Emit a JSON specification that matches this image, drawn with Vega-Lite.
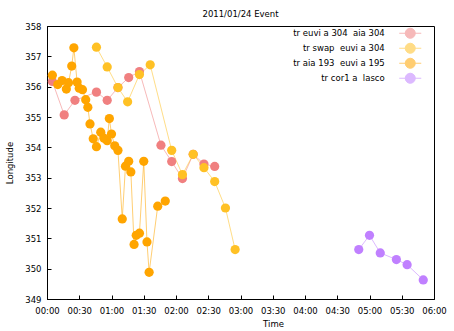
{
  "$schema": "https://vega.github.io/schema/vega-lite/v6.json",
  "width": 454,
  "height": 331,
  "autosize": {"type": "fit", "contains": "padding"},
  "padding": {"left": 5, "top": 9, "right": 7, "bottom": 3},
  "background": "white",
  "title": {"text": "2011/01/24 Event", "fontSize": 8.5, "font": "DejaVu Sans", "fontWeight": "normal", "color": "#000", "offset": 4},
  "config": {
    "view": {"stroke": "#000"},
    "font": "DejaVu Sans",
    "axis": {"grid": false, "domainColor": "#000", "tickColor": "#000", "labelColor": "#000", "titleColor": "#000", "labelFontSize": 8.5, "titleFontSize": 8.5, "titleFontWeight": "normal", "labelFont": "DejaVu Sans", "titleFont": "DejaVu Sans"}
  },
  "data": {
    "values": [
      {"series": "tr euvi a 304  aia 304", "time": "2011-01-24T00:05", "longitude": 356.17},
      {"series": "tr euvi a 304  aia 304", "time": "2011-01-24T00:16", "longitude": 355.07},
      {"series": "tr euvi a 304  aia 304", "time": "2011-01-24T00:26", "longitude": 355.55},
      {"series": "tr euvi a 304  aia 304", "time": "2011-01-24T00:46", "longitude": 355.82},
      {"series": "tr euvi a 304  aia 304", "time": "2011-01-24T00:56", "longitude": 355.55},
      {"series": "tr euvi a 304  aia 304", "time": "2011-01-24T01:06", "longitude": 355.97},
      {"series": "tr euvi a 304  aia 304", "time": "2011-01-24T01:16", "longitude": 356.3},
      {"series": "tr euvi a 304  aia 304", "time": "2011-01-24T01:26", "longitude": 356.5},
      {"series": "tr euvi a 304  aia 304", "time": "2011-01-24T01:46", "longitude": 354.07},
      {"series": "tr euvi a 304  aia 304", "time": "2011-01-24T01:56", "longitude": 353.53},
      {"series": "tr euvi a 304  aia 304", "time": "2011-01-24T02:06", "longitude": 352.97},
      {"series": "tr euvi a 304  aia 304", "time": "2011-01-24T02:16", "longitude": 353.77},
      {"series": "tr euvi a 304  aia 304", "time": "2011-01-24T02:26", "longitude": 353.45},
      {"series": "tr euvi a 304  aia 304", "time": "2011-01-24T02:36", "longitude": 353.37},
      {"series": "tr swap  euvi a 304", "time": "2011-01-24T00:46", "longitude": 357.3},
      {"series": "tr swap  euvi a 304", "time": "2011-01-24T00:56", "longitude": 356.65},
      {"series": "tr swap  euvi a 304", "time": "2011-01-24T01:06", "longitude": 355.97},
      {"series": "tr swap  euvi a 304", "time": "2011-01-24T01:15", "longitude": 355.5},
      {"series": "tr swap  euvi a 304", "time": "2011-01-24T01:26", "longitude": 356.4},
      {"series": "tr swap  euvi a 304", "time": "2011-01-24T01:36", "longitude": 356.72},
      {"series": "tr swap  euvi a 304", "time": "2011-01-24T01:56", "longitude": 353.9},
      {"series": "tr swap  euvi a 304", "time": "2011-01-24T02:06", "longitude": 353.1},
      {"series": "tr swap  euvi a 304", "time": "2011-01-24T02:16", "longitude": 353.77},
      {"series": "tr swap  euvi a 304", "time": "2011-01-24T02:26", "longitude": 353.33},
      {"series": "tr swap  euvi a 304", "time": "2011-01-24T02:36", "longitude": 352.87},
      {"series": "tr swap  euvi a 304", "time": "2011-01-24T02:46", "longitude": 352.0},
      {"series": "tr swap  euvi a 304", "time": "2011-01-24T02:55", "longitude": 350.63},
      {"series": "tr aia 193  euvi a 195", "time": "2011-01-24T00:05", "longitude": 356.38},
      {"series": "tr aia 193  euvi a 195", "time": "2011-01-24T00:10", "longitude": 356.07},
      {"series": "tr aia 193  euvi a 195", "time": "2011-01-24T00:14", "longitude": 356.2},
      {"series": "tr aia 193  euvi a 195", "time": "2011-01-24T00:18", "longitude": 355.92},
      {"series": "tr aia 193  euvi a 195", "time": "2011-01-24T00:20", "longitude": 356.13},
      {"series": "tr aia 193  euvi a 195", "time": "2011-01-24T00:23", "longitude": 356.68},
      {"series": "tr aia 193  euvi a 195", "time": "2011-01-24T00:25", "longitude": 357.28},
      {"series": "tr aia 193  euvi a 195", "time": "2011-01-24T00:28", "longitude": 356.15},
      {"series": "tr aia 193  euvi a 195", "time": "2011-01-24T00:30", "longitude": 355.95},
      {"series": "tr aia 193  euvi a 195", "time": "2011-01-24T00:33", "longitude": 355.9},
      {"series": "tr aia 193  euvi a 195", "time": "2011-01-24T00:36", "longitude": 355.57},
      {"series": "tr aia 193  euvi a 195", "time": "2011-01-24T00:38", "longitude": 355.32},
      {"series": "tr aia 193  euvi a 195", "time": "2011-01-24T00:40", "longitude": 354.77},
      {"series": "tr aia 193  euvi a 195", "time": "2011-01-24T00:43", "longitude": 354.28},
      {"series": "tr aia 193  euvi a 195", "time": "2011-01-24T00:46", "longitude": 354.02},
      {"series": "tr aia 193  euvi a 195", "time": "2011-01-24T00:50", "longitude": 354.5},
      {"series": "tr aia 193  euvi a 195", "time": "2011-01-24T00:53", "longitude": 354.3},
      {"series": "tr aia 193  euvi a 195", "time": "2011-01-24T00:56", "longitude": 354.22},
      {"series": "tr aia 193  euvi a 195", "time": "2011-01-24T00:58", "longitude": 354.95},
      {"series": "tr aia 193  euvi a 195", "time": "2011-01-24T01:00", "longitude": 354.44},
      {"series": "tr aia 193  euvi a 195", "time": "2011-01-24T01:03", "longitude": 354.05},
      {"series": "tr aia 193  euvi a 195", "time": "2011-01-24T01:06", "longitude": 353.9},
      {"series": "tr aia 193  euvi a 195", "time": "2011-01-24T01:10", "longitude": 351.64},
      {"series": "tr aia 193  euvi a 195", "time": "2011-01-24T01:13", "longitude": 353.38},
      {"series": "tr aia 193  euvi a 195", "time": "2011-01-24T01:16", "longitude": 353.54},
      {"series": "tr aia 193  euvi a 195", "time": "2011-01-24T01:18", "longitude": 353.19},
      {"series": "tr aia 193  euvi a 195", "time": "2011-01-24T01:21", "longitude": 350.8},
      {"series": "tr aia 193  euvi a 195", "time": "2011-01-24T01:23", "longitude": 351.1},
      {"series": "tr aia 193  euvi a 195", "time": "2011-01-24T01:26", "longitude": 351.17},
      {"series": "tr aia 193  euvi a 195", "time": "2011-01-24T01:30", "longitude": 353.54},
      {"series": "tr aia 193  euvi a 195", "time": "2011-01-24T01:33", "longitude": 350.88},
      {"series": "tr aia 193  euvi a 195", "time": "2011-01-24T01:35", "longitude": 349.88},
      {"series": "tr aia 193  euvi a 195", "time": "2011-01-24T01:43", "longitude": 352.06},
      {"series": "tr aia 193  euvi a 195", "time": "2011-01-24T01:50", "longitude": 352.23},
      {"series": "tr cor1 a  lasco", "time": "2011-01-24T04:50", "longitude": 350.63},
      {"series": "tr cor1 a  lasco", "time": "2011-01-24T05:00", "longitude": 351.1},
      {"series": "tr cor1 a  lasco", "time": "2011-01-24T05:10", "longitude": 350.52},
      {"series": "tr cor1 a  lasco", "time": "2011-01-24T05:25", "longitude": 350.3},
      {"series": "tr cor1 a  lasco", "time": "2011-01-24T05:35", "longitude": 350.13},
      {"series": "tr cor1 a  lasco", "time": "2011-01-24T05:50", "longitude": 349.63}
    ]
  },
  "encoding": {
    "x": {
      "field": "time", "type": "temporal", "title": "Time",
      "scale": {"domain": [{"year": 2011, "month": 1, "date": 24, "hours": 0, "minutes": 0}, {"year": 2011, "month": 1, "date": 24, "hours": 6, "minutes": 0}]},
      "axis": {"format": "%H:%M", "tickCount": 12, "labelOverlap": false, "labelFlush": false, "tickSize": -4, "labelPadding": 11, "titlePadding": 5, "titleX": 226}
    },
    "y": {
      "field": "longitude", "type": "quantitative", "title": "Longitude",
      "scale": {"domain": [349, 358], "nice": false, "zero": false},
      "axis": {"values": [349, 350, 351, 352, 353, 354, 355, 356, 357, 358], "tickSize": -4, "labelPadding": 10, "titlePadding": 10}
    },
    "color": {
      "field": "series", "type": "nominal",
      "scale": {"domain": ["tr euvi a 304  aia 304", "tr swap  euvi a 304", "tr aia 193  euvi a 195", "tr cor1 a  lasco"], "range": ["#F08080", "#FFC125", "#FFA500", "#C080FF"]},
      "legend": {
        "title": null, "orient": "none", "legendX": 359, "legendY": 3,
        "symbolType": "M-3.14,0L3.14,0M-1.43,0A1.43,1.43,0,1,1,1.43,0A1.43,1.43,0,1,1,-1.43,0Z",
        "symbolSize": 49, "symbolStrokeWidth": 1,
        "labelAlign": "right", "labelOffset": -29.75, "labelFontSize": 8.5, "labelColor": "#000",
        "rowPadding": 0, "padding": 0,
        "labelExpr": "replace(datum.label, '  ', ' \u00a0')",
        "encode": {"symbols": {"update": {"size": {"value": 49}, "strokeWidth": {"value": 1}, "fill": {"scale": "color", "field": "value"}, "stroke": {"scale": "color", "field": "value"}, "strokeOpacity": {"value": 0.55}, "fillOpacity": {"value": 1}, "opacity": {"value": 1}}}}
      }
    }
  },
  "layer": [
    {"mark": {"type": "line", "strokeWidth": 1, "opacity": 0.55}},
    {"mark": {"type": "point", "filled": true, "size": 85, "opacity": 1}}
  ]
}
